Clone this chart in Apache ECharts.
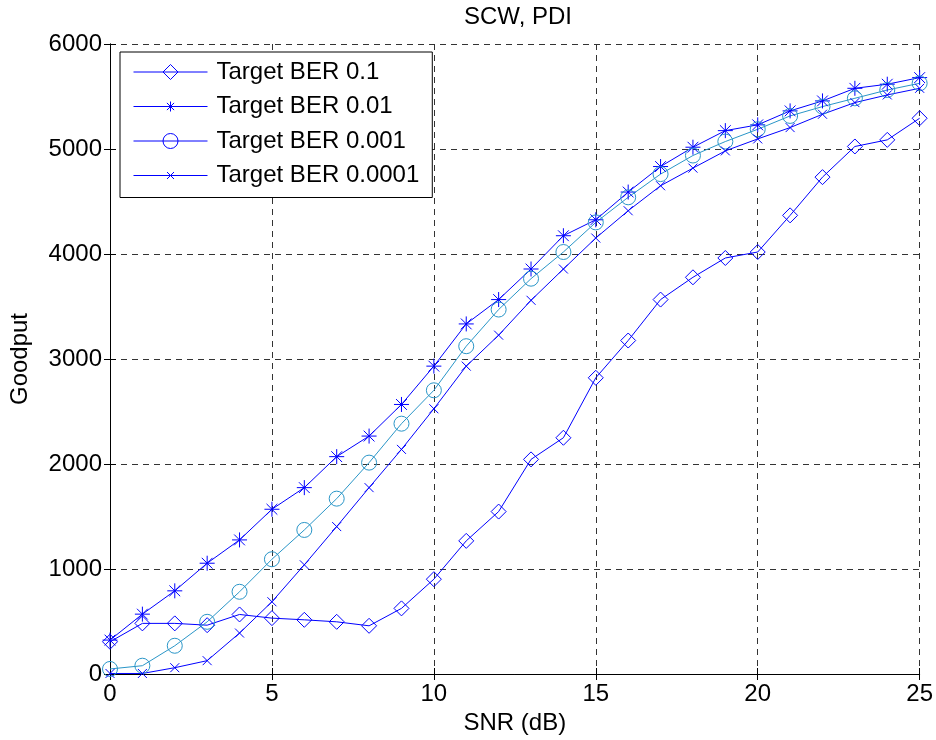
<!DOCTYPE html>
<html>
<head>
<meta charset="utf-8">
<script src="https://cdn.jsdelivr.net/npm/echarts@6/dist/echarts.min.js"></script>
<style>
  html, body { margin: 0; padding: 0; background: #fff; }
  #chart { width: 936px; height: 740px; }
</style>
</head>
<body>
<div id="chart"></div>
<script>
// SNR values (dB)
const snr = [0,1,2,3,4,5,6,7,8,9,10,11,12,13,14,15,16,17,18,19,20,21,22,23,24,25];

// Goodput per target BER
const ber1 = [307,482,482,465,567,532,516,497,459,625,903,1268,1547,2044,2250,2821,3176,3566,3778,3962,4019,4368,4732,5024,5087,5293];
const ber2 = [323,570,792,1055,1277,1569,1775,2070,2266,2567,2932,3334,3566,3857,4174,4326,4590,4833,5017,5175,5230,5363,5458,5578,5617,5680];
const ber3 = [48,79,269,497,783,1093,1372,1670,2013,2384,2702,3122,3471,3765,4019,4301,4540,4761,4938,5071,5188,5315,5404,5483,5562,5626];
const ber4 = [5,5,60,127,390,688,1040,1404,1775,2139,2526,2932,3227,3559,3857,4152,4412,4650,4818,4982,5096,5204,5331,5442,5515,5578];

const seriesNames = ['Target BER 0.1', 'Target BER 0.01', 'Target BER 0.001', 'Target BER 0.0001'];
const xTicks = [0, 5, 10, 15, 20, 25];
const yTicks = [0, 1000, 2000, 3000, 4000, 5000, 6000];

const BLUE = '#0000ff';
const CYAN = '#2a96c8';
const FONT = '"Liberation Sans", Arial, sans-serif';
const FS = 24;

// marker shapes for the plotted points
const diamondPath = 'path://M0,-1L1,0L0,1L-1,0Z';
const starPath = 'path://M0,-1L0,1M-1,0L1,0M-0.72,-0.72L0.72,0.72M-0.72,0.72L0.72,-0.72';
const crossPath = 'path://M-1,-1L1,1M-1,1L1,-1';

// legend keys: a 74px line with the marker in its middle
const keyLine = 'M0,8.5L74,8.5';
const legendIcons = [
  'path://' + keyLine + 'M37,1L44.5,8.5L37,16L29.5,8.5Z',
  'path://' + keyLine + 'M37,3.5L37,13.5M32,8.5L42,8.5M33.4,4.9L40.6,12.1M33.4,12.1L40.6,4.9',
  'path://' + keyLine + 'M44.5,8.5A7.5,7.5,0,1,1,29.5,8.5A7.5,7.5,0,1,1,44.5,8.5',
  'path://' + keyLine + 'M33.5,5L40.5,12M33.5,12L40.5,5'
];

function pairs(vals) { return snr.map((x, i) => [x, vals[i]]); }

function mkSeries(name, vals, symbol, size, color) {
  return {
    name: name,
    type: 'line',
    color: color,
    data: pairs(vals),
    symbol: symbol,
    symbolSize: size,
    showAllSymbol: true,
    lineStyle: { color: color, width: 1 },
    itemStyle: { color: 'rgba(255,255,255,0)', borderColor: color, borderWidth: 1 },
    emphasis: { disabled: true },
    animation: false,
    z: 3
  };
}

const chart = echarts.init(document.getElementById('chart'), null, { renderer: 'canvas' });

const axisCommon = {
  axisLine: { show: true, lineStyle: { color: '#000', width: 1 } },
  axisTick: { show: true, inside: true, length: 6, lineStyle: { color: '#000' } }
};

chart.setOption({
  backgroundColor: '#fff',
  animation: false,
  title: {
    text: 'SCW, PDI',
    left: 513, top: 0, textAlign: 'center',
    textStyle: { fontFamily: FONT, fontSize: FS, fontWeight: 'normal', color: '#000' }
  },
  grid: { left: 110, right: 15, top: 44, bottom: 65, show: false },
  legend: {
    orient: 'vertical',
    left: 120, top: 52,
    width: 310,
    padding: [8, 13, 10, 13],
    itemWidth: 74, itemHeight: 17, itemGap: 10.5,
    symbolKeepAspect: true,
    backgroundColor: '#fff',
    borderColor: '#000', borderWidth: 1,
    textStyle: { fontFamily: FONT, fontSize: FS, lineHeight: 24, color: '#000', padding: [0, 0, 0, 4] },
    data: seriesNames.map((n, i) => ({
      name: n,
      icon: legendIcons[i],
      itemStyle: { color: 'rgba(255,255,255,0)', borderColor: BLUE, borderWidth: 1 }
    }))
  },
  xAxis: [{
    type: 'value', min: 0, max: 25, interval: 5,
    name: 'SNR (dB)', nameLocation: 'middle', nameGap: 37,
    nameTextStyle: { fontFamily: FONT, fontSize: FS, color: '#000' },
    axisLabel: { fontFamily: FONT, fontSize: FS, color: '#000', margin: 8,
      formatter: v => xTicks.includes(v) ? String(v) : '' },
    splitLine: { show: true, lineStyle: { color: '#333', type: [6, 5], width: 1 } },
    ...axisCommon
  }, {
    type: 'value', min: 0, max: 25, interval: 5, position: 'top',
    axisLabel: { show: false }, splitLine: { show: false },
    ...axisCommon
  }],
  yAxis: [{
    type: 'value', min: 0, max: 6000, interval: 1000,
    name: 'Goodput', nameLocation: 'middle', nameGap: 78,
    nameTextStyle: { fontFamily: FONT, fontSize: FS, color: '#000' },
    axisLabel: { fontFamily: FONT, fontSize: FS, color: '#000', margin: 8,
      formatter: v => yTicks.includes(v) ? String(v) : '' },
    splitLine: { show: true, lineStyle: { color: '#333', type: [6, 5], width: 1 } },
    ...axisCommon
  }, {
    type: 'value', min: 0, max: 6000, interval: 1000, position: 'right',
    axisLabel: { show: false }, splitLine: { show: false },
    ...axisCommon
  }],
  series: [
    mkSeries(seriesNames[0], ber1, diamondPath, 15, BLUE),
    mkSeries(seriesNames[1], ber2, starPath, 15, BLUE),
    mkSeries(seriesNames[2], ber3, 'circle', 15, CYAN),
    mkSeries(seriesNames[3], ber4, crossPath, 9, BLUE)
  ]
});
</script>
</body>
</html>
